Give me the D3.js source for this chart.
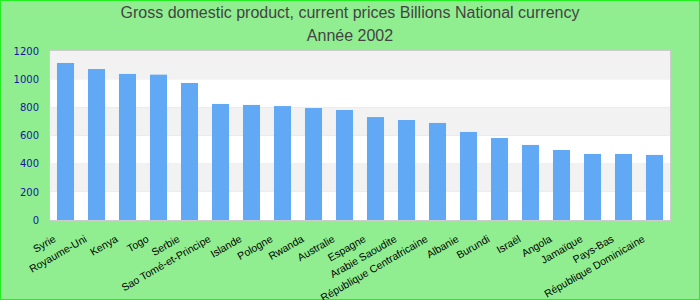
<!DOCTYPE html>
<html>
<head>
<meta charset="utf-8">
<script src="https://cdnjs.cloudflare.com/ajax/libs/d3/7.8.5/d3.min.js"></script>
<style>
  body { margin: 0; background: #fff; }
  svg { display: block; }
</style>
</head>
<body>
<svg width="700" height="300"></svg>
<script>
var countries = ["Syrie", "Royaume-Uni", "Kenya", "Togo", "Serbie", "Sao Tomé-et-Principe",
  "Islande", "Pologne", "Rwanda", "Australie", "Espagne", "Arabie Saoudite",
  "République Centrafricaine", "Albanie", "Burundi", "Israël", "Angola",
  "Jamaïque", "Pays-Bas", "République Dominicaine"];
var gdp = [1115, 1072, 1037, 1032, 973, 824, 817, 809, 795, 781, 731, 710,
  689, 625, 582, 533, 497, 469, 469, 462];
var yTicks = [0, 200, 400, 600, 800, 1000, 1200];
var titleLines = ["Gross domestic product, current prices Billions National currency", "Année 2002"];

var svg = d3.select("svg"),
  width = +svg.attr("width"),
  height = +svg.attr("height");

var margin = {top: 51, right: 30, bottom: 80, left: 50};

// background + green frame
svg.append("rect")
  .attr("x", 0.5).attr("y", 0.5)
  .attr("width", width - 1).attr("height", height - 1)
  .attr("fill", "#90ee90")
  .attr("stroke", "#22ee22");

var x = d3.scaleBand()
  .domain(countries)
  .range([margin.left, width - margin.right])
  .paddingInner(0.45)
  .paddingOuter(0.225);

var y = d3.scaleLinear()
  .domain([0, 1200])
  .range([height - margin.bottom, margin.top]);

// alternating bands
var bands = svg.append("g").attr("class", "bands");
bands.selectAll("rect")
  .data(d3.pairs(yTicks))
  .enter().append("rect")
  .attr("x", margin.left)
  .attr("y", function(d) { return y(d[1]); })
  .attr("width", width - margin.left - margin.right)
  .attr("height", function(d) { return y(d[0]) - y(d[1]); })
  .attr("fill", function(d, i) { return i % 2 == 0 ? "#ffffff" : "#f2f2f2"; });

// bars
svg.append("g")
  .attr("class", "bars")
  .selectAll("rect")
  .data(gdp)
  .enter().append("rect")
  .attr("x", function(d, i) { return x(countries[i]); })
  .attr("y", function(d) { return y(d); })
  .attr("width", x.bandwidth())
  .attr("height", function(d) { return y(0) - y(d); })
  .attr("fill", "#62a9f5");

// plot frame
svg.append("rect")
  .attr("x", margin.left - 0.5)
  .attr("y", margin.top - 0.5)
  .attr("width", width - margin.left - margin.right + 1)
  .attr("height", height - margin.top - margin.bottom + 1)
  .attr("fill", "none")
  .attr("stroke", "#cccccc");

// y axis labels
var yAxis = svg.append("g")
  .attr("transform", "translate(" + (margin.left - 11) + ",0)")
  .call(d3.axisLeft(y).tickValues(yTicks).tickFormat(d3.format("d")).tickSize(0).tickPadding(0));
yAxis.select(".domain").remove();
yAxis.selectAll("text")
  .attr("fill", "#16169e")
  .style("font-family", "DejaVu Sans")
  .style("font-size", "10px");

// x axis labels
var xAxis = svg.append("g")
  .attr("transform", "translate(0," + (height - margin.bottom) + ")")
  .call(d3.axisBottom(x).tickSize(0));
xAxis.select(".domain").remove();
xAxis.selectAll("text")
  .attr("fill", "#000")
  .style("font-family", "Liberation Sans")
  .style("font-size", "10.5px")
  .attr("text-anchor", "end")
  .attr("dy", null)
  .attr("y", 0)
  .attr("transform", "translate(-9,21) rotate(-30)");

// title
svg.append("g")
  .selectAll("text")
  .data(titleLines)
  .enter().append("text")
  .attr("x", width / 2)
  .attr("y", function(d, i) { return 18 + i * 23; })
  .attr("text-anchor", "middle")
  .attr("fill", "#444")
  .style("font-family", "Liberation Sans")
  .style("font-size", "16px")
  .text(function(d) { return d; });
</script>
</body>
</html>
